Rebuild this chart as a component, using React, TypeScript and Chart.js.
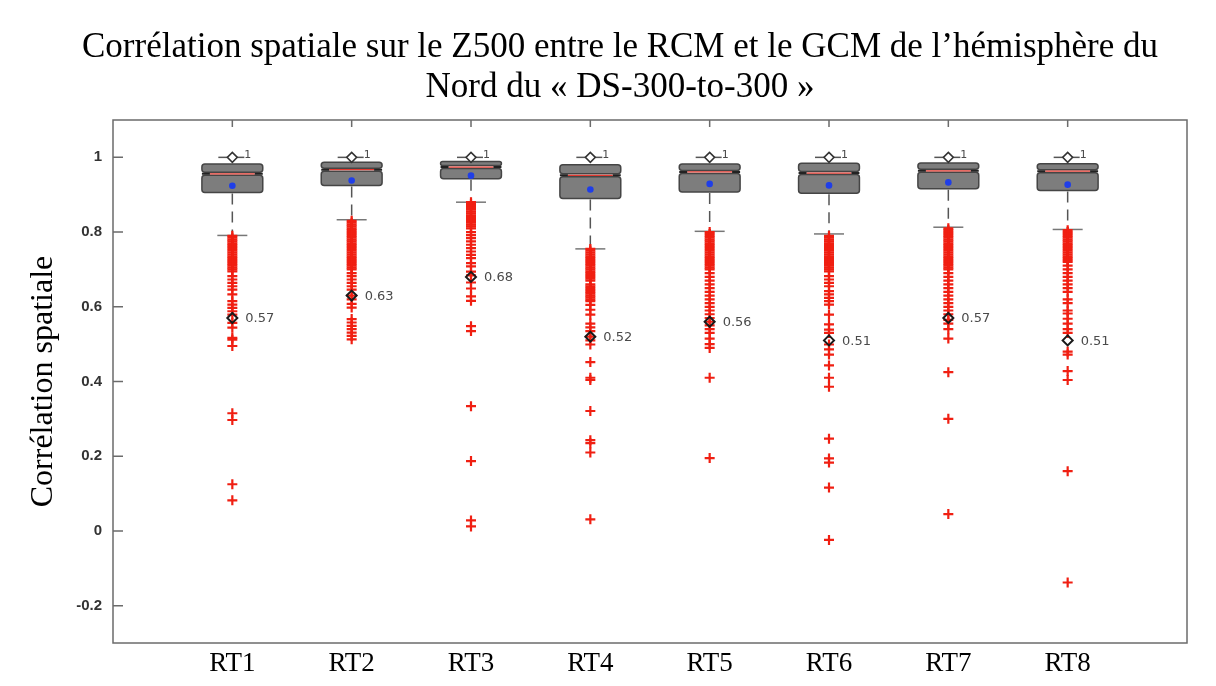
import React, { useEffect, useRef } from "react";
import { Chart, registerables } from "chart.js";

Chart.register(...registerables);

const titleLines = [
  "Corrélation spatiale sur le Z500 entre le RCM et le GCM de l’hémisphère du",
  "Nord du « DS-300-to-300 »",
];
const yAxisTitle = "Corrélation spatiale";
const categories = ["RT1", "RT2", "RT3", "RT4", "RT5", "RT6", "RT7", "RT8"];
const q1 = [0.906, 0.925, 0.943, 0.89, 0.907, 0.904, 0.916, 0.911];
const medians = [0.956, 0.967, 0.974, 0.952, 0.961, 0.958, 0.964, 0.963];
const q3 = [0.982, 0.987, 0.989, 0.98, 0.982, 0.984, 0.985, 0.983];
const means = [0.924, 0.938, 0.951, 0.914, 0.929, 0.925, 0.933, 0.927];
const lowerWhiskers = [0.791, 0.833, 0.88, 0.755, 0.802, 0.795, 0.813, 0.807];
const upperValues = [1, 1, 1, 1, 1, 1, 1, 1];
const labeledValues = [0.57, 0.63, 0.68, 0.52, 0.56, 0.51, 0.57, 0.51];
const labeledTexts = ["0.57", "0.63", "0.68", "0.52", "0.56", "0.51", "0.57", "0.51"];
const yTickValues = [-0.2, 0, 0.2, 0.4, 0.6, 0.8, 1];
const yTickLabels = ["-0.2", "0", "0.2", "0.4", "0.6", "0.8", "1"];

const outliersRT1 = [0.79, 0.785, 0.78, 0.775, 0.77, 0.765, 0.76, 0.755, 0.75, 0.745, 0.74, 0.735, 0.73, 0.725, 0.72, 0.715, 0.71, 0.705, 0.7, 0.695, 0.682, 0.673, 0.664, 0.655, 0.646, 0.633, 0.615, 0.606, 0.597, 0.588, 0.579, 0.557, 0.544, 0.517, 0.512, 0.495, 0.315, 0.297, 0.125, 0.082];
const outliersRT2 = [0.83, 0.825, 0.82, 0.815, 0.81, 0.805, 0.8, 0.795, 0.79, 0.785, 0.78, 0.775, 0.77, 0.765, 0.76, 0.755, 0.75, 0.745, 0.74, 0.735, 0.73, 0.725, 0.72, 0.715, 0.71, 0.705, 0.7, 0.69, 0.682, 0.673, 0.664, 0.655, 0.646, 0.63, 0.62, 0.608, 0.598, 0.567, 0.558, 0.549, 0.54, 0.531, 0.522, 0.513];
const outliersRT3 = [0.88, 0.875, 0.87, 0.865, 0.86, 0.855, 0.85, 0.845, 0.84, 0.835, 0.83, 0.825, 0.82, 0.815, 0.81, 0.8, 0.792, 0.784, 0.775, 0.766, 0.757, 0.748, 0.739, 0.73, 0.717, 0.708, 0.694, 0.684, 0.665, 0.649, 0.628, 0.616, 0.548, 0.535, 0.334, 0.187, 0.028, 0.012];
const outliersRT4 = [0.755, 0.75, 0.745, 0.74, 0.735, 0.73, 0.725, 0.72, 0.715, 0.71, 0.705, 0.7, 0.695, 0.69, 0.685, 0.68, 0.675, 0.67, 0.66, 0.655, 0.65, 0.645, 0.64, 0.635, 0.63, 0.625, 0.62, 0.615, 0.605, 0.592, 0.579, 0.555, 0.545, 0.535, 0.52, 0.51, 0.499, 0.452, 0.41, 0.404, 0.321, 0.243, 0.235, 0.21, 0.031];
const outliersRT5 = [0.8, 0.795, 0.79, 0.785, 0.78, 0.775, 0.77, 0.765, 0.76, 0.755, 0.75, 0.745, 0.74, 0.735, 0.73, 0.725, 0.72, 0.715, 0.71, 0.705, 0.7, 0.69, 0.68, 0.67, 0.66, 0.65, 0.64, 0.63, 0.62, 0.61, 0.6, 0.59, 0.58, 0.57, 0.56, 0.55, 0.54, 0.53, 0.515, 0.5, 0.49, 0.41, 0.195];
const outliersRT6 = [0.79, 0.785, 0.78, 0.775, 0.77, 0.765, 0.76, 0.755, 0.75, 0.745, 0.74, 0.735, 0.73, 0.725, 0.72, 0.715, 0.71, 0.705, 0.7, 0.695, 0.682, 0.673, 0.664, 0.655, 0.642, 0.633, 0.624, 0.615, 0.606, 0.579, 0.553, 0.539, 0.53, 0.499, 0.486, 0.472, 0.443, 0.41, 0.386, 0.247, 0.194, 0.183, 0.116, -0.024];
const outliersRT7 = [0.81, 0.805, 0.8, 0.795, 0.79, 0.785, 0.78, 0.775, 0.77, 0.765, 0.76, 0.755, 0.75, 0.745, 0.74, 0.735, 0.73, 0.725, 0.72, 0.715, 0.71, 0.705, 0.7, 0.69, 0.68, 0.67, 0.66, 0.65, 0.64, 0.63, 0.62, 0.61, 0.6, 0.59, 0.58, 0.565, 0.555, 0.54, 0.515, 0.425, 0.3, 0.045];
const outliersRT8 = [0.805, 0.8, 0.795, 0.79, 0.785, 0.78, 0.775, 0.77, 0.765, 0.76, 0.755, 0.75, 0.745, 0.74, 0.735, 0.73, 0.725, 0.72, 0.71, 0.7, 0.69, 0.68, 0.67, 0.66, 0.65, 0.64, 0.62, 0.61, 0.59, 0.582, 0.568, 0.555, 0.54, 0.53, 0.48, 0.472, 0.428, 0.404, 0.16, -0.138];
const outlierLists = [outliersRT1, outliersRT2, outliersRT3, outliersRT4, outliersRT5, outliersRT6, outliersRT7, outliersRT8];

const BOX_HALF = 0.255;

function roundRect(ctx: CanvasRenderingContext2D, x: number, y: number, w: number, h: number, r: number) {
  const rr = Math.min(r, h / 2, w / 2);
  ctx.beginPath();
  ctx.moveTo(x + rr, y);
  ctx.lineTo(x + w - rr, y);
  ctx.quadraticCurveTo(x + w, y, x + w, y + rr);
  ctx.lineTo(x + w, y + h - rr);
  ctx.quadraticCurveTo(x + w, y + h, x + w - rr, y + h);
  ctx.lineTo(x + rr, y + h);
  ctx.quadraticCurveTo(x, y + h, x, y + h - rr);
  ctx.lineTo(x, y + rr);
  ctx.quadraticCurveTo(x, y, x + rr, y);
  ctx.closePath();
}

const boxPlugin = {
  id: "boxes",
  beforeDatasetsDraw(chart: any) {
    const { ctx, scales } = chart;
    const x = scales.x;
    const y = scales.y;
    ctx.save();
    categories.forEach((_, i) => {
      const cx = x.getPixelForValue(i + 1);
      const xl = x.getPixelForValue(i + 1 - BOX_HALF);
      const xr = x.getPixelForValue(i + 1 + BOX_HALF);
      const yq1 = y.getPixelForValue(q1[i]);
      const yq3 = y.getPixelForValue(q3[i]);
      const ym = y.getPixelForValue(medians[i]);
      const ylw = y.getPixelForValue(lowerWhiskers[i]);
      const yup = y.getPixelForValue(upperValues[i]);
      ctx.strokeStyle = "#555";
      ctx.lineWidth = 1.5;
      ctx.setLineDash([11, 7]);
      ctx.beginPath();
      ctx.moveTo(cx, yq1 + 1);
      ctx.lineTo(cx, ylw);
      ctx.stroke();
      ctx.setLineDash([]);
      ctx.strokeStyle = "#777";
      ctx.beginPath();
      ctx.moveTo(cx - 15, ylw);
      ctx.lineTo(cx + 15, ylw);
      ctx.stroke();
      ctx.strokeStyle = "#555";
      ctx.beginPath();
      ctx.moveTo(cx - 14, yup);
      ctx.lineTo(cx + 12, yup);
      ctx.stroke();
      ctx.fillStyle = "#7d7d7d";
      ctx.strokeStyle = "#454545";
      ctx.lineWidth = 1.5;
      roundRect(ctx, xl, yq3, xr - xl, ym - 1.5 - yq3, 3);
      ctx.fill();
      ctx.stroke();
      roundRect(ctx, xl, ym + 1.5, xr - xl, yq1 - ym - 1.5, 3);
      ctx.fill();
      ctx.stroke();
      ctx.strokeStyle = "#e03a30";
      ctx.lineWidth = 1.3;
      ctx.beginPath();
      ctx.moveTo(xl + 8, ym);
      ctx.lineTo(xr - 8, ym);
      ctx.stroke();
      ctx.strokeStyle = "#222";
      ctx.lineWidth = 2;
      ctx.beginPath();
      ctx.moveTo(xl, ym);
      ctx.lineTo(xl + 8, ym);
      ctx.moveTo(xr - 8, ym);
      ctx.lineTo(xr, ym);
      ctx.stroke();
    });
    ctx.restore();
  },
  afterDatasetsDraw(chart: any) {
    const { ctx, scales } = chart;
    const x = scales.x;
    const y = scales.y;
    ctx.save();
    ctx.textAlign = "left";
    ctx.textBaseline = "middle";
    categories.forEach((_, i) => {
      const cx = x.getPixelForValue(i + 1);
      ctx.fillStyle = "#4a4a4a";
      ctx.font = "13px 'DejaVu Sans', sans-serif";
      ctx.fillText(labeledTexts[i], cx + 13, y.getPixelForValue(labeledValues[i]) + 1);
      ctx.font = "11px 'DejaVu Sans', sans-serif";
      ctx.fillText("1", cx + 12, y.getPixelForValue(upperValues[i]) - 2);
    });
    ctx.restore();
  },
  afterDraw(chart: any) {
    const { ctx, chartArea, scales } = chart;
    const x = scales.x;
    const y = scales.y;
    ctx.save();
    ctx.strokeStyle = "#6b6b6b";
    ctx.lineWidth = 1.5;
    ctx.strokeRect(chartArea.left, chartArea.top, chartArea.right - chartArea.left, chartArea.bottom - chartArea.top);
    ctx.beginPath();
    yTickValues.forEach((v) => {
      const py = y.getPixelForValue(v);
      ctx.moveTo(chartArea.left, py);
      ctx.lineTo(chartArea.left + 10, py);
    });
    categories.forEach((_, i) => {
      const px = x.getPixelForValue(i + 1);
      ctx.moveTo(px, chartArea.top);
      ctx.lineTo(px, chartArea.top + 7);
    });
    ctx.stroke();
    ctx.restore();
  },
};

export default function App() {
  const canvasRef = useRef<HTMLCanvasElement | null>(null);

  useEffect(() => {
    if (!canvasRef.current) return;
    const outlierData: { x: number; y: number }[] = [];
    outlierLists.forEach((list, i) => list.forEach((v) => outlierData.push({ x: i + 1, y: v })));
    const serif = "'Liberation Serif', 'Times New Roman', serif";
    const chart = new Chart(canvasRef.current, {
      type: "scatter",
      data: {
        datasets: [
          {
            label: "labeled",
            data: labeledValues.map((v, i) => ({ x: i + 1, y: v })),
            pointStyle: "rectRot",
            pointRadius: 5,
            borderColor: "#1a1a1a",
            backgroundColor: "rgba(255,255,255,0)",
            borderWidth: 2,
            order: 0,
          },
          {
            label: "max",
            data: upperValues.map((v, i) => ({ x: i + 1, y: v })),
            pointStyle: "rectRot",
            pointRadius: 5,
            borderColor: "#333",
            backgroundColor: "#fff",
            borderWidth: 1.5,
            order: 1,
          },
          {
            label: "mean",
            data: means.map((v, i) => ({ x: i + 1, y: v })),
            pointStyle: "circle",
            pointRadius: 3.3,
            borderWidth: 0,
            backgroundColor: "#1f3ee8",
            borderColor: "#1f3ee8",
            order: 2,
          },
          {
            label: "outliers",
            data: outlierData,
            pointStyle: "cross",
            pointRadius: 5,
            borderWidth: 2.2,
            borderColor: "#f01f12",
            backgroundColor: "#f01f12",
            order: 3,
          },
        ],
      },
      options: {
        responsive: false,
        animation: false,
        devicePixelRatio: 1,
        layout: { padding: { left: 24, right: 0, top: 0, bottom: 0 } },
        plugins: {
          legend: { display: false },
          tooltip: { enabled: false },
          title: {
            display: true,
            text: titleLines,
            color: "#000",
            font: { family: serif, size: 35, weight: "normal", lineHeight: "40px" },
            padding: { top: 28, bottom: 12 },
          },
        },
        scales: {
          x: {
            type: "linear",
            min: 0,
            max: 9,
            afterBuildTicks: (s: any) => {
              s.ticks = categories.map((_, i) => ({ value: i + 1 }));
            },
            afterFit: (s: any) => {
              s.height = 43;
            },
            ticks: {
              callback: (_v: any, i: number) => categories[i],
              font: { family: serif, size: 27 },
              color: "#000",
              padding: 5,
              maxRotation: 0,
              autoSkip: false,
            },
            grid: { display: false, drawTicks: false },
            border: { display: false },
          },
          y: {
            type: "linear",
            min: -0.3,
            max: 1.1,
            afterBuildTicks: (s: any) => {
              s.ticks = yTickValues.map((v) => ({ value: v }));
            },
            afterFit: (s: any) => {
              s.width = 89;
            },
            ticks: {
              callback: (_v: any, i: number) => yTickLabels[i],
              font: { family: "'Liberation Sans', Arial, sans-serif", size: 15, weight: "bold" },
              color: "#333",
              padding: 11,
            },
            grid: { display: false, drawTicks: false },
            border: { display: false },
            title: {
              display: true,
              text: yAxisTitle,
              color: "#000",
              font: { family: serif, size: 32, lineHeight: 1.2 },
              padding: { top: 0, bottom: 0 },
            },
          },
          yRight: {
            type: "linear",
            position: "right",
            display: true,
            min: -0.3,
            max: 1.1,
            ticks: { display: false },
            grid: { display: false, drawTicks: false },
            border: { display: false },
            afterFit: (s: any) => {
              s.width = 29;
            },
          },
        },
      },
      plugins: [boxPlugin],
    } as any);
    return () => chart.destroy();
  }, []);

  return (
    <div style={{ position: "fixed", left: 0, top: 0, width: 1216, height: 686, background: "#fff" }}>
      <canvas ref={canvasRef} width={1216} height={686} style={{ display: "block" }} />
    </div>
  );
}
